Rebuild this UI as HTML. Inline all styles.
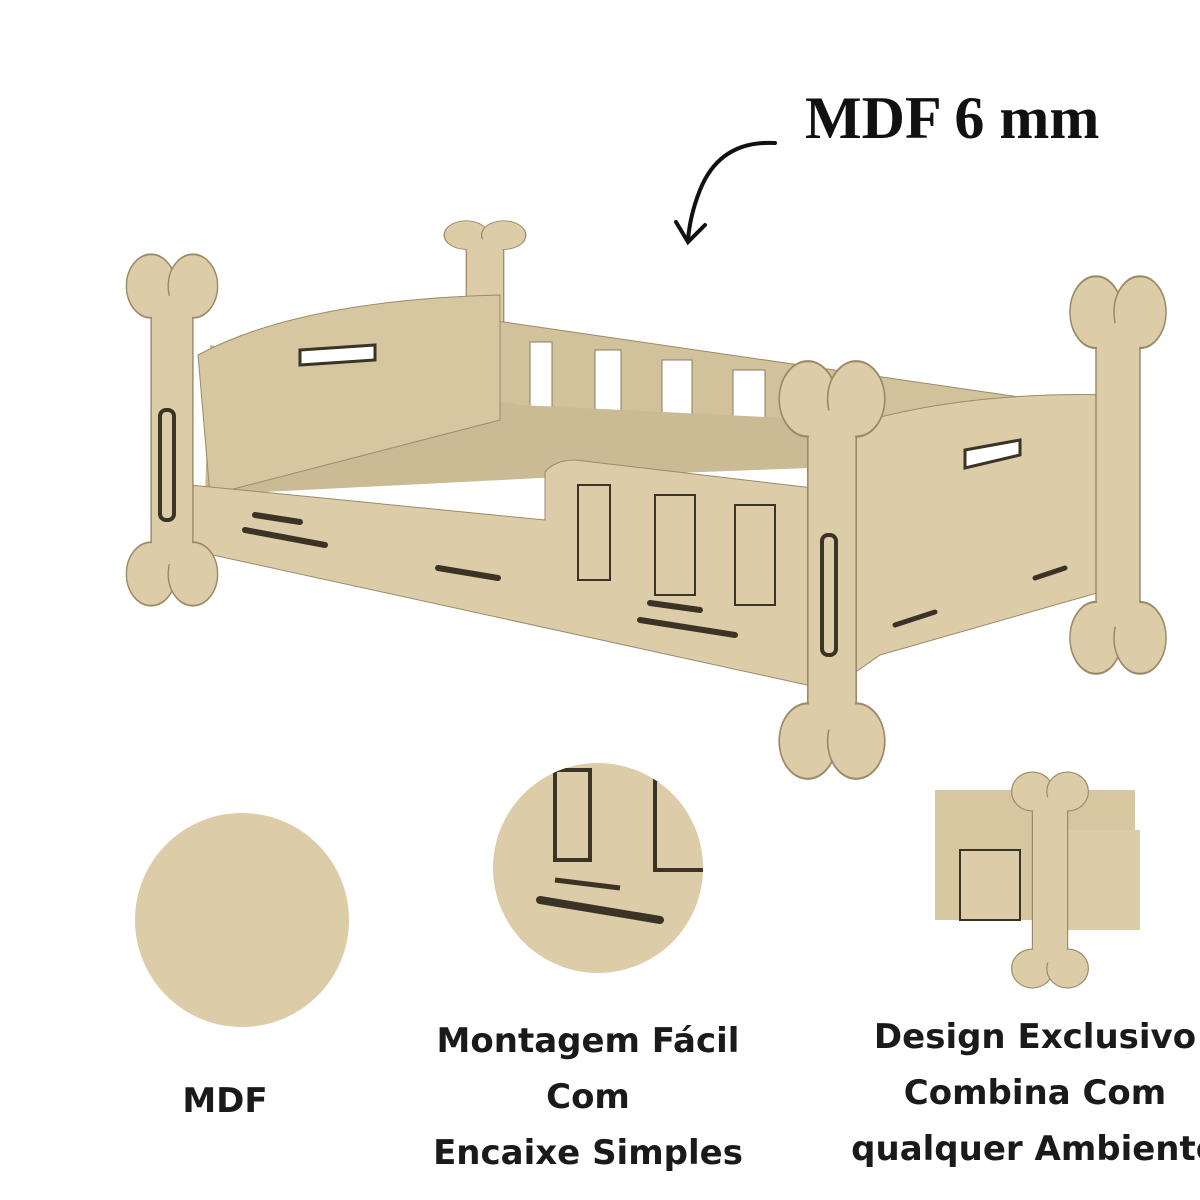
<!DOCTYPE html>
<html><head><meta charset="utf-8"><style>
html,body{margin:0;padding:0;background:#fff;}
body{width:1200px;height:1200px;position:relative;overflow:hidden;}
.t{position:absolute;font-family:"DejaVu Sans","Liberation Sans",sans-serif;font-weight:bold;font-size:34px;color:#1a1a1a;text-align:center;white-space:nowrap;line-height:56px;}
.title{position:absolute;left:805px;top:84px;font-family:"Liberation Serif",serif;font-weight:bold;font-size:60px;color:#111;white-space:nowrap;}
</style></head><body>
<svg width="1200" height="1200" style="position:absolute;left:0;top:0">
<defs>
<g id="bone">
  <rect x="-22" y="-120" width="44" height="240" fill="#dccda8" stroke="#9a8a68" stroke-width="1.5"/>
  <circle cx="-22" cy="-118" r="26" fill="#dccda8" stroke="#9a8a68" stroke-width="1.5"/>
  <circle cx="22" cy="-118" r="26" fill="#dccda8" stroke="#9a8a68" stroke-width="1.5"/>
  <circle cx="-22" cy="118" r="26" fill="#dccda8" stroke="#9a8a68" stroke-width="1.5"/>
  <circle cx="22" cy="118" r="26" fill="#dccda8" stroke="#9a8a68" stroke-width="1.5"/>
  <rect x="-21" y="-110" width="42" height="220" fill="#dccda8"/>
</g>
</defs>
<!-- arrow -->
<path d="M775 143 Q720 140 700 190 Q690 215 688 240" fill="none" stroke="#111" stroke-width="4" stroke-linecap="round"/>
<path d="M676 222 L688 242 L705 225" fill="none" stroke="#111" stroke-width="4" stroke-linecap="round"/>
<!-- back post -->
<g transform="translate(485,300) scale(0.85,0.55)"><use href="#bone"/></g>
<!-- back rail -->
<polygon points="490,320 1040,400 1040,430 520,430 490,420" fill="#d2c29c" stroke="#9a8a68"/>
<g fill="#fff" stroke="#8a7a58">
<rect x="530" y="342" width="22" height="70"/><rect x="595" y="350" width="26" height="75"/>
<rect x="662" y="360" width="30" height="78"/><rect x="733" y="370" width="32" height="80"/>
<rect x="950" y="410" width="30" height="30"/>
</g>
<!-- floor -->
<polygon points="205,495 540,478 810,468 1030,430 520,405 210,345" fill="#cbbb94"/>
<!-- left headboard -->
<path d="M198 355 Q300 300 500 295 L500 420 L210 495 Z" fill="#d6c7a0" stroke="#9a8a68"/>
<path d="M300 350 L375 345 L375 360 L300 365 Z" fill="#fff" stroke="#3a3326" stroke-width="3"/>
<!-- front panel -->
<path d="M190 485 L545 520 L545 472 Q555 460 575 460 L830 490 L830 690 L190 550 Z" fill="#dccda8" stroke="#9a8a68"/>
<g fill="#dccda8" stroke="#3a3326" stroke-width="2">
<rect x="578" y="485" width="32" height="95"/><rect x="655" y="495" width="40" height="100"/><rect x="735" y="505" width="40" height="100"/>
</g>
<g stroke="#3a3326" stroke-width="6" stroke-linecap="round">
<line x1="245" y1="530" x2="325" y2="545"/><line x1="438" y1="568" x2="498" y2="578"/><line x1="640" y1="620" x2="735" y2="635"/>
<line x1="255" y1="515" x2="300" y2="522"/><line x1="650" y1="603" x2="700" y2="610"/>
</g>
<!-- right end panel -->
<path d="M830 432 Q950 390 1120 395 L1125 585 L880 655 L830 690 Z" fill="#dccda8" stroke="#9a8a68"/>
<path d="M965 450 L1020 440 L1020 455 L965 468 Z" fill="#fff" stroke="#3a3326" stroke-width="3"/>
<g stroke="#3a3326" stroke-width="5" stroke-linecap="round">
<line x1="895" y1="625" x2="935" y2="612"/><line x1="1035" y1="578" x2="1065" y2="568"/>
</g>
<!-- bone posts -->
<g transform="translate(172,430) scale(0.95,1.22)"><use href="#bone"/></g>
<g transform="translate(1118,475) scale(1,1.38)"><use href="#bone"/></g>
<g transform="translate(832,570) scale(1.1,1.45)"><use href="#bone"/></g>
<g stroke="#3a3326" stroke-width="4" fill="none">
<rect x="160" y="410" width="14" height="110" rx="6"/><rect x="822" y="535" width="14" height="120" rx="6"/>
</g>
<!-- bottom images -->
<circle cx="242" cy="920" r="107" fill="#dccda8"/>
<clipPath id="c2"><circle cx="598" cy="868" r="105"/></clipPath>
<g clip-path="url(#c2)">
<rect x="490" y="760" width="220" height="220" fill="#dccda8"/>
<rect x="555" y="770" width="35" height="90" fill="#dccda8" stroke="#3a3326" stroke-width="4"/>
<rect x="655" y="780" width="50" height="90" fill="#dccda8" stroke="#3a3326" stroke-width="4"/>
<line x1="540" y1="900" x2="660" y2="920" stroke="#3a3326" stroke-width="8" stroke-linecap="round"/>
<line x1="555" y1="880" x2="620" y2="888" stroke="#3a3326" stroke-width="5"/>
</g>
<g>
<rect x="935" y="790" width="200" height="130" fill="#d6c7a0"/>
<rect x="960" y="850" width="60" height="70" fill="#dccda8" stroke="#3a3326" stroke-width="2"/>
<rect x="1060" y="830" width="80" height="100" fill="#dccda8"/>
<g transform="translate(1050,880) scale(0.8,0.75)"><use href="#bone"/></g>
</g>
</svg>
<div class="title">MDF 6 mm</div>
<div class="t" style="left:125px;width:200px;top:1073px">MDF</div>
<div class="t" style="left:388px;width:400px;top:1013px">Montagem Fácil<br>Com<br>Encaixe Simples</div>
<div class="t" style="left:835px;width:400px;top:1009px">Design Exclusivo<br>Combina Com<br>qualquer Ambiente</div>
</body></html>
